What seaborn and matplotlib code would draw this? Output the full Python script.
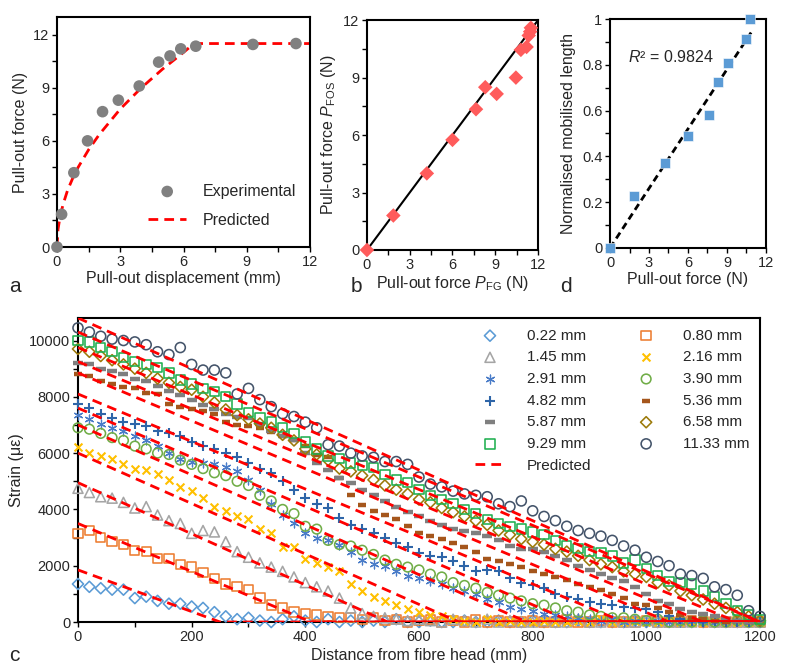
import numpy as np
import matplotlib
matplotlib.use('Agg')
import matplotlib.pyplot as plt
from matplotlib.ticker import MultipleLocator
import seaborn as sns

sns.set_style('ticks')
plt.rcParams['font.family'] = ['Liberation Sans', 'DejaVu Sans']
plt.rcParams['mathtext.fontset'] = 'custom'
plt.rcParams['mathtext.rm'] = 'Liberation Sans'
plt.rcParams['mathtext.it'] = 'Liberation Sans:italic'

# ---- panel a: pull-out force vs displacement ----
exp_disp = [0, 0.22, 0.80, 1.45, 2.16, 2.91, 3.90, 4.82, 5.36, 5.87, 6.58, 9.29, 11.33]
exp_force = [0, 1.85, 4.2, 6.0, 7.65, 8.3, 9.1, 10.45, 10.8, 11.2, 11.35, 11.45, 11.5]
pred_disp = [0, 0.05, 0.15, 0.3, 0.5, 0.75, 1.0, 1.5, 2.0, 3.0, 4.0, 5.0, 6.0, 6.5, 12]
pred_force = [0, 1.0, 1.75, 2.45, 3.2, 3.9, 4.5, 5.5, 6.35, 7.8, 9.0, 10.05, 11.0, 11.5, 11.5]

# ---- panel b: FOS force vs FG force ----
p_fg = [0, 1.85, 4.2, 6.0, 7.65, 8.3, 9.1, 10.45, 10.8, 11.2, 11.35, 11.45, 11.5]
p_fos = [0, 1.8, 4.0, 5.75, 7.35, 8.5, 8.15, 9.0, 10.45, 10.6, 11.2, 11.4, 11.6]
unity_line = [0, 12]

# ---- panel d: normalised mobilised length ----
d_force = [0, 1.85, 4.2, 6.0, 7.65, 8.3, 9.1, 10.45, 10.8]
d_length = [0, 0.225, 0.371, 0.487, 0.581, 0.727, 0.807, 0.911, 1.0]
fit_force = [0, 10.9]
fit_length = [0, 0.945]

# ---- panel c: strain profiles ----
distance_mm = np.arange(0, 1201, 20)
series_labels = ['0.22 mm', '0.80 mm', '1.45 mm', '2.16 mm', '2.91 mm', '3.90 mm',
                 '4.82 mm', '5.36 mm', '5.87 mm', '6.58 mm', '9.29 mm', '11.33 mm']

strain_0_22 = [1350, 1250, 1200, 1150, 1150, 850, 900, 750, 650, 650,
               550, 500, 350, 200, 100, 150, 50, 0, 100, 200,
               50, 0, 100, 0, 50, 0, 50, 0, 100, 0,
               0, 50, 0, 0, 50, 0, 0, 50, 0, 0,
               50, 0, 0, 0, 50, 0, 0, 0, 0, 50,
               0, 0, 0, 50, 0, 0, 0, 0, 0, 0, 0]
strain_0_80 = [3150, 3250, 3000, 2850, 2750, 2550, 2500, 2250, 2250, 2050,
               1950, 1750, 1550, 1350, 1250, 1150, 850, 600, 500, 350,
               300, 250, 200, 150, 150, 100, 150, 50, 100, 0,
               50, 100, 0, 50, 0, 100, 0, 50, 0, 0,
               50, 0, 0, 100, 0, 0, 50, 0, 0, 0,
               50, 0, 0, 0, 50, 0, 0, 0, 0, 0, 0]
strain_1_45 = [4750, 4600, 4450, 4400, 4250, 4050, 4100, 3800, 3600, 3500,
               3150, 3250, 3200, 2850, 2500, 2300, 2100, 1950, 1800, 1600,
               1400, 1250, 1100, 850, 500, 300, 200, 150, 100, 50,
               100, 50, 0, 100, 50, 0, 100, 0, 50, 0,
               0, 50, 0, 0, 100, 0, 0, 50, 0, 0,
               50, 0, 0, 0, 0, 50, 0, 0, 0, 0, 0]
strain_2_16 = [6200, 6000, 5900, 5800, 5600, 5450, 5400, 5250, 5050, 4800,
               4650, 4400, 4100, 3950, 3750, 3650, 3300, 3150, 2650, 2650,
               2250, 2100, 1950, 1800, 1350, 1100, 900, 750, 600, 450,
               350, 250, 200, 100, 50, 0, 100, 0, 50, 0,
               0, 50, 0, 0, 50, 0, 100, 0, 0, 50,
               0, 0, 50, 0, 0, 0, 50, 0, 0, 0, 0]
strain_2_91 = [7350, 7200, 7050, 6900, 6800, 6600, 6450, 6250, 6000, 5800,
               5700, 5650, 5600, 5500, 5350, 5050, 4700, 4200, 3800, 3500,
               3150, 3000, 2900, 2750, 2500, 2200, 2050, 2000, 1800, 1650,
               1550, 1450, 1350, 1200, 1100, 1000, 800, 700, 550, 450,
               400, 300, 250, 200, 150, 100, 50, 100, 0, 50,
               0, 50, 0, 0, 50, 0, 0, 0, 50, 0, 0]
strain_3_90 = [6900, 6850, 6700, 6550, 6450, 6250, 6150, 6000, 5950, 5750,
               5600, 5450, 5300, 5200, 5000, 4850, 4500, 4300, 4000, 3850,
               3400, 3300, 2900, 2750, 2700, 2550, 2400, 2200, 2050, 1950,
               1850, 1700, 1600, 1400, 1300, 1200, 1050, 950, 850, 750,
               650, 600, 500, 400, 350, 250, 200, 150, 150, 100,
               50, 100, 0, 50, 0, 50, 0, 0, 50, 0, 0]
strain_4_82 = [7750, 7600, 7400, 7250, 7100, 7050, 6950, 6800, 6700, 6600,
               6400, 6250, 6150, 6000, 5850, 5650, 5450, 5300, 5000, 4700,
               4400, 4200, 4050, 3700, 3450, 3300, 3150, 3000, 2800, 2650,
               2450, 2350, 2300, 2150, 2000, 1800, 1850, 1800, 1550, 1400,
               1300, 1200, 1000, 900, 800, 700, 650, 600, 550, 500,
               450, 350, 200, 100, 50, 0, 50, 0, 0, 0, 0]
strain_5_36 = [8800, 8750, 8550, 8450, 8350, 8300, 8150, 8100, 7750, 7650,
               7550, 7500, 7400, 7100, 7000, 6950, 6900, 6750, 6600, 6450,
               6250, 5950, 5850, 5100, 4500, 4150, 3950, 3800, 3650, 3400,
               3150, 3050, 2950, 2800, 2650, 2500, 2250, 2150, 2050, 1950,
               1800, 1700, 1600, 1500, 1350, 1250, 1150, 1000, 850, 650,
               600, 500, 350, 250, 150, 100, 50, 0, 50, 0, 0]
strain_5_87 = [9200, 9150, 9000, 8900, 8800, 8650, 8550, 8400, 8200, 8050,
               7900, 7700, 7550, 7400, 7300, 7250, 7050, 6800, 6600, 6450,
               6000, 5650, 5400, 5100, 4950, 4700, 4500, 4300, 4100, 3900,
               3750, 3600, 3450, 3300, 3250, 3150, 3050, 2900, 2700, 2600,
               2600, 2500, 2350, 2200, 2000, 1850, 1700, 1550, 1450, 1250,
               1000, 750, 650, 450, 350, 300, 200, 100, 50, 0, 0]
strain_6_58 = [9700, 9600, 9450, 9300, 9150, 9000, 8850, 8650, 8500, 8350,
               8250, 8000, 7800, 7550, 7350, 7200, 7050, 6900, 6650, 6450,
               6150, 5950, 5750, 5450, 5350, 5200, 5050, 4850, 4700, 4550,
               4350, 4250, 4050, 3900, 3750, 3600, 3450, 3250, 3100, 2950,
               2850, 2750, 2600, 2500, 2350, 2200, 2050, 1950, 1800, 1700,
               1600, 1400, 1300, 1100, 950, 800, 650, 500, 350, 200, 50]
strain_9_29 = [10000, 9950, 9750, 9600, 9400, 9250, 9150, 9050, 8850, 8600,
               8450, 8300, 8200, 8000, 7750, 7450, 7250, 7100, 6900, 6700,
               6400, 6150, 5900, 5800, 5650, 5550, 5500, 5250, 5050, 4950,
               4700, 4500, 4350, 4200, 4000, 3850, 3650, 3500, 3400, 3300,
               3200, 3100, 2900, 2700, 2600, 2500, 2450, 2350, 2100, 2200,
               1900, 1650, 1450, 1400, 1350, 1100, 900, 650, 400, 250, 100]
strain_11_33 = [10450, 10300, 10150, 10050, 10000, 9950, 9850, 9600, 9500, 9750,
                9150, 8950, 8950, 8850, 8100, 8300, 7900, 7650, 7400, 7300,
                7100, 6900, 6300, 6250, 6000, 5900, 5850, 5700, 5700, 5600,
                5150, 4900, 4800, 4650, 4550, 4500, 4450, 4200, 4100, 4300,
                3950, 3750, 3600, 3400, 3250, 3150, 3050, 2900, 2700, 2550,
                2300, 2150, 2000, 1700, 1650, 1550, 1250, 1150, 950, 400, 200]

strain_series = [strain_0_22, strain_0_80, strain_1_45, strain_2_16, strain_2_91, strain_3_90,
                 strain_4_82, strain_5_36, strain_5_87, strain_6_58, strain_9_29, strain_11_33]

# predicted profiles: strain at fibre head and length where strain reaches zero
pred_head_strain = [1850, 3500, 4950, 6000, 7000, 7600, 8100, 8850, 9250, 9750, 10300, 10800]
pred_zero_length = [250, 410, 545, 670, 790, 870, 960, 1040, 1100, 1160, 1200, 1200]

# marker styles for the strain series
styles = {
    '0.22 mm': dict(marker='D', color='#5B9BD5', open=True, s=32),
    '0.80 mm': dict(marker='s', color='#ED7D31', open=True, s=45),
    '1.45 mm': dict(marker='^', color='#A5A5A5', open=True, s=52),
    '2.16 mm': dict(marker='x', color='#FFC000', open=False, s=32),
    '2.91 mm': dict(marker=(6, 2, 0), color='#4A7CC8', open=False, s=40),
    '3.90 mm': dict(marker='o', color='#70AD47', open=True, s=48),
    '4.82 mm': dict(marker='+', color='#2E65A8', open=False, s=60),
    '5.36 mm': dict(marker='_', color='#A5561C', open=False, s=30),
    '5.87 mm': dict(marker='_', color='#7F7F7F', open=False, s=60),
    '6.58 mm': dict(marker='D', color='#9C7A0A', open=True, s=32),
    '9.29 mm': dict(marker='s', color='#1FB050', open=True, s=45),
    '11.33 mm': dict(marker='o', color='#44546A', open=True, s=52),
}


def style_axis(ax, xlim, ylim, xmaj, xmin, ymaj, ymin):
    ax.set_xlim(*xlim)
    ax.set_ylim(*ylim)
    ax.xaxis.set_major_locator(MultipleLocator(xmaj))
    ax.xaxis.set_minor_locator(MultipleLocator(xmin))
    ax.yaxis.set_major_locator(MultipleLocator(ymaj))
    ax.yaxis.set_minor_locator(MultipleLocator(ymin))
    ax.tick_params(which='both', direction='out', length=3.5, width=1.0, color='black')
    ax.tick_params(which='major', labelsize=10.5, pad=2)
    for sp in ax.spines.values():
        sp.set_visible(True)
        sp.set_linewidth(1.5)
        sp.set_color('black')


fig = plt.figure(figsize=(7.87, 6.72), dpi=100)

# ---------- a ----------
ax_a = fig.add_axes([0.0724, 0.6324, 0.3216, 0.3423])
sns.lineplot(x=pred_disp, y=pred_force, ax=ax_a, color='#FF0000', lw=2.0,
             linestyle=(0, (3.5, 2.2)), estimator=None, sort=False, label='Predicted', zorder=2)
sns.scatterplot(x=exp_disp, y=exp_force, ax=ax_a, color='#808080', s=70, edgecolor='none',
                label='Experimental', zorder=3, clip_on=False)
style_axis(ax_a, (0, 12), (0, 13), 3, 1.5, 3, 1.5)
ax_a.set_yticks([0, 3, 6, 9, 12])
ax_a.set_xlabel('Pull-out displacement (mm)', fontsize=11.5, labelpad=2)
ax_a.set_ylabel('Pull-out force (N)', fontsize=11.5, labelpad=4)
h, l = ax_a.get_legend_handles_labels()
order = [l.index('Experimental'), l.index('Predicted')]
ax_a.legend([h[i] for i in order], [l[i] for i in order], loc='lower right', frameon=False,
            fontsize=11.5, labelspacing=0.9, handlelength=2.4, handletextpad=1.0,
            bbox_to_anchor=(1.0, 0.02))

# ---------- b ----------
ax_b = fig.add_axes([0.4663, 0.628, 0.2173, 0.342])
sns.lineplot(x=unity_line, y=unity_line, ax=ax_b, color='black', lw=1.5,
             estimator=None, sort=False, zorder=2)
sns.scatterplot(x=p_fg, y=p_fos, ax=ax_b, marker='D', color='#FF5B5B', s=55,
                edgecolor='none', zorder=3, clip_on=False)
style_axis(ax_b, (0, 12), (0, 12), 3, 1.5, 3, 1.5)
ax_b.set_xlabel('Pull-out force $\\it{P}$$_{\\rm FG}$ (N)', fontsize=11.5, labelpad=2)
ax_b.set_ylabel('Pull-out force $\\it{P}$$_{\\rm FOS}$ (N)', fontsize=11.5, labelpad=4)

# ---------- d ----------
ax_d = fig.add_axes([0.7751, 0.631, 0.1982, 0.3407])
sns.lineplot(x=fit_force, y=fit_length, ax=ax_d, color='black', lw=2.0,
             linestyle=(0, (2.5, 1.6)), estimator=None, sort=False, zorder=2)
sns.scatterplot(x=d_force, y=d_length, ax=ax_d, marker='s', color='#5B9BD5', s=62,
                edgecolor='white', linewidth=0.4, zorder=3, clip_on=False)
style_axis(ax_d, (0, 12), (0, 1), 3, 1.5, 0.2, 0.1)
ax_d.yaxis.set_major_formatter(matplotlib.ticker.FuncFormatter(lambda v, p: f'{v:g}'))
ax_d.text(1.4, 0.836, '$\\it{R}$² = 0.9824', fontsize=11.5, va='center', ha='left')
ax_d.set_xlabel('Pull-out force (N)', fontsize=11.5, labelpad=2)
ax_d.set_ylabel('Normalised mobilised length', fontsize=11.5, labelpad=4)

# ---------- c ----------
ax_c = fig.add_axes([0.0991, 0.0744, 0.8666, 0.4524])
for lab, vals in zip(series_labels, strain_series):
    st = styles[lab]
    if st['open']:
        sns.scatterplot(x=distance_mm, y=vals, ax=ax_c, marker=st['marker'], s=st['s'],
                        color=st['color'], facecolor='none', edgecolor=st['color'],
                        linewidth=1.15, label=lab, zorder=3, clip_on=False)
    else:
        if st['marker'] == '_':
            lw = 3.2
        elif st['marker'] == 'x' or st['marker'] == '+':
            lw = 1.5
        else:
            lw = 0.9
        sns.scatterplot(x=distance_mm, y=vals, ax=ax_c, marker=st['marker'], s=st['s'],
                        color=st['color'], linewidth=lw, label=lab, zorder=3, clip_on=False)

for i, (s0, L) in enumerate(zip(pred_head_strain, pred_zero_length)):
    sns.lineplot(x=[0, L, 1200], y=[s0, 0, 0], ax=ax_c, color='#FF0000', lw=2.0,
                 linestyle=(0, (3.5, 2.2)), estimator=None, sort=False, zorder=4,
                 label='Predicted' if i == 0 else '_nolegend_')

style_axis(ax_c, (0, 1200), (0, 10800), 200, 100, 2000, 1000)
ax_c.set_xlabel('Distance from fibre head (mm)', fontsize=11.5, labelpad=3)
ax_c.set_ylabel('Strain (με)', fontsize=11.5, labelpad=4)

h, l = ax_c.get_legend_handles_labels()
leg_order = ['0.22 mm', '1.45 mm', '2.91 mm', '4.82 mm', '5.87 mm', '9.29 mm', 'Predicted',
             '0.80 mm', '2.16 mm', '3.90 mm', '5.36 mm', '6.58 mm', '11.33 mm']
idx = [l.index(k) for k in leg_order]
ax_c.legend([h[i] for i in idx], [l[i] for i in idx], ncol=2, loc='upper right',
            frameon=False, fontsize=11, handlelength=2.0, handletextpad=1.4,
            columnspacing=2.6, labelspacing=0.5, borderaxespad=0.3)

# panel letters
fig.text(0.012, 0.573, 'a', fontsize=15, va='center')
fig.text(0.445, 0.573, 'b', fontsize=15, va='center')
fig.text(0.712, 0.573, 'd', fontsize=15, va='center')
fig.text(0.012, 0.025, 'c', fontsize=15, va='center')

fig.savefig('out.png', dpi=100)
